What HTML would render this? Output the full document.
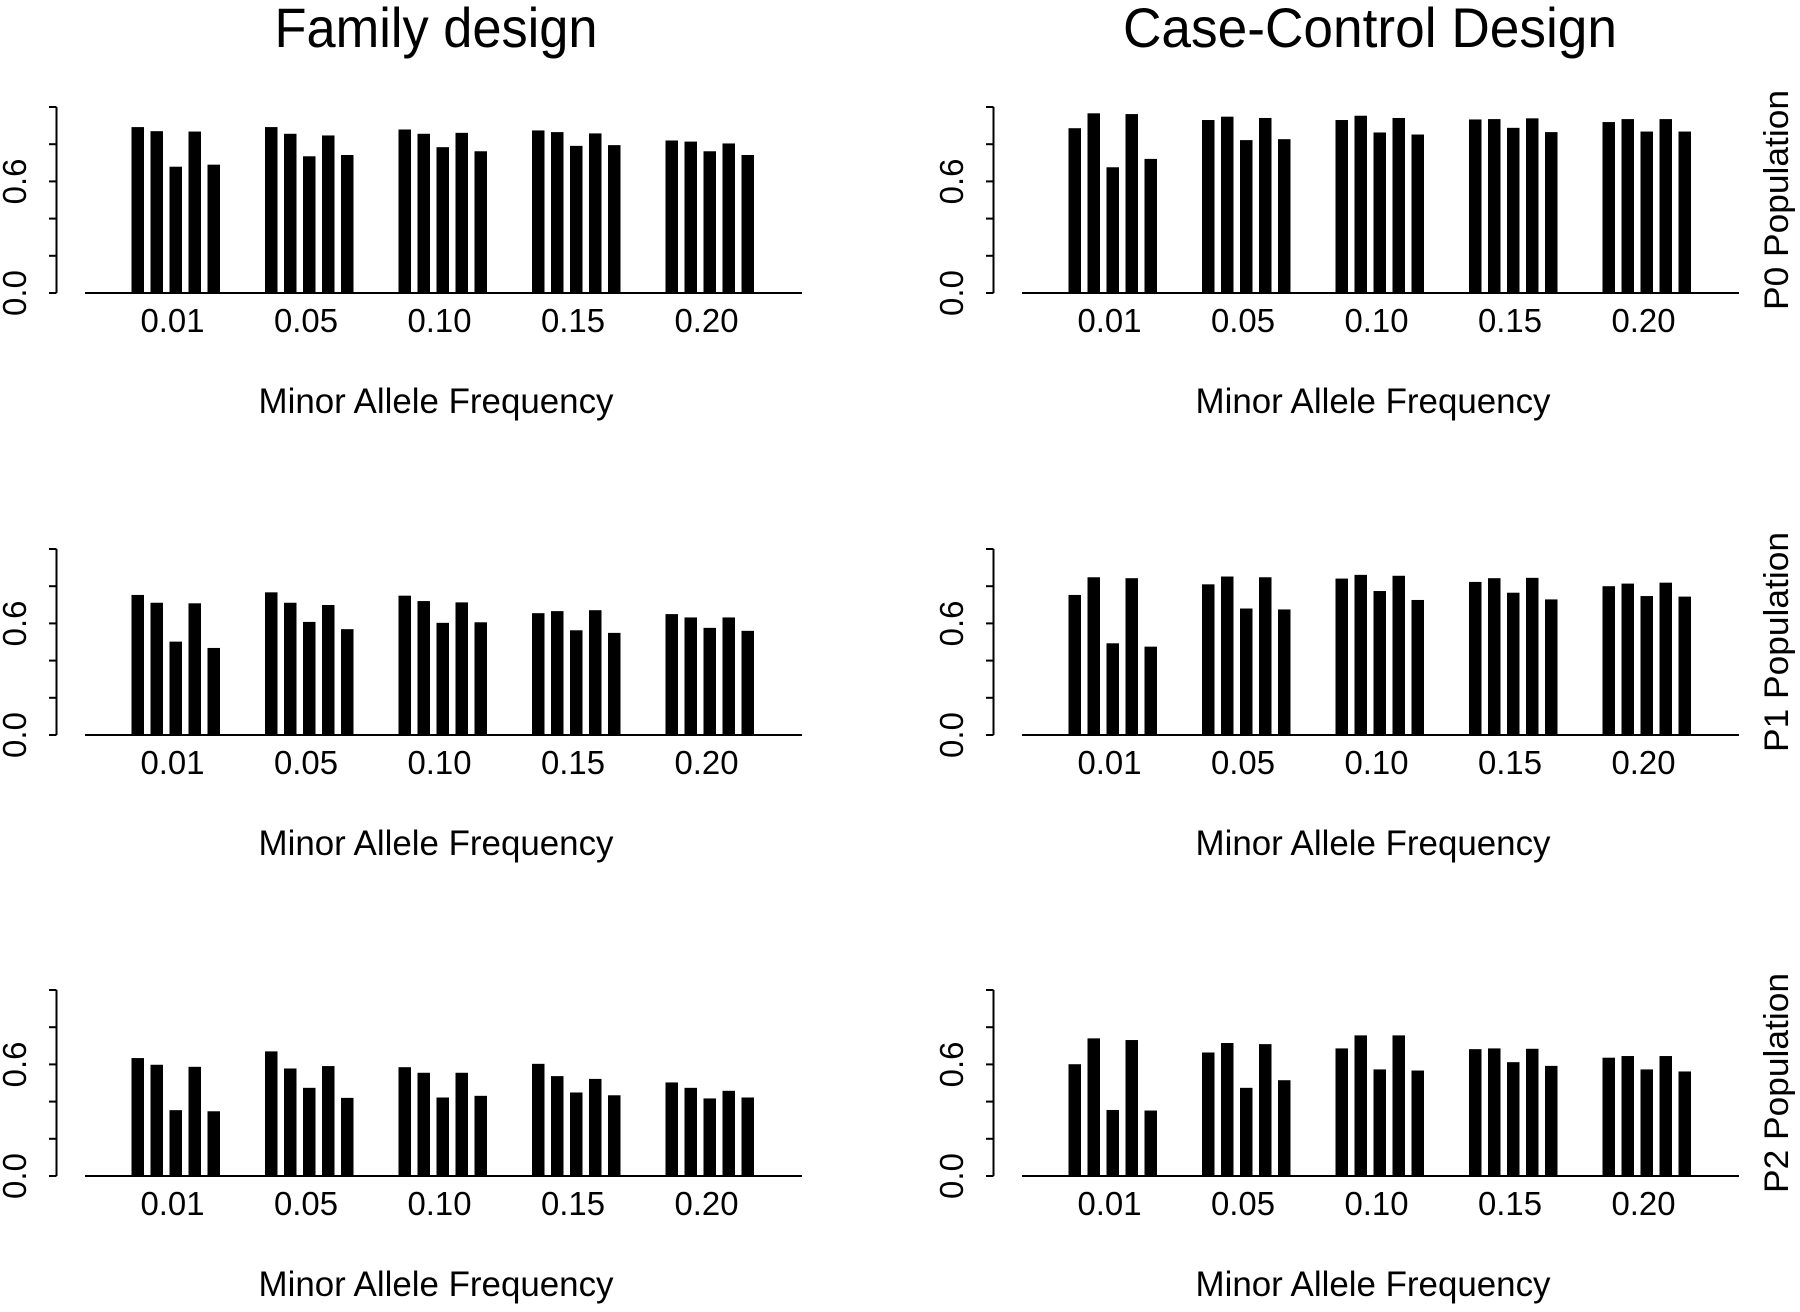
<!DOCTYPE html>
<html><head><meta charset="utf-8"><style>
html,body{margin:0;padding:0;background:#fff;}
svg{display:block;font-family:"Liberation Sans",Arial,sans-serif;}
</style></head><body>
<svg id="fig" width="1800" height="1312" viewBox="0 0 1800 1312" xmlns="http://www.w3.org/2000/svg">
<text x="436" y="47" font-size="56" text-anchor="middle" textLength="323" lengthAdjust="spacingAndGlyphs">Family design</text>
<text x="1370" y="47" font-size="56" text-anchor="middle" textLength="494" lengthAdjust="spacingAndGlyphs">Case-Control Design</text>
</svg>
<script>
const categories = ["0.01","0.05","0.10","0.15","0.20"];
const yTicks = [0,0.2,0.4,0.6,0.8,1.0];
const yTickLabels = {"0":"0.0","0.6":"0.6"};
const rowLabels = ["P0 Population","P1 Population","P2 Population"];
const famP0 = [[0.892,0.870,0.679,0.868,0.690],[0.892,0.856,0.735,0.847,0.742],[0.879,0.856,0.784,0.861,0.762],[0.874,0.865,0.791,0.858,0.795],[0.820,0.814,0.762,0.804,0.742]];
const ccP0 = [[0.886,0.966,0.676,0.962,0.721],[0.930,0.948,0.822,0.941,0.827],[0.930,0.953,0.863,0.941,0.852],[0.933,0.935,0.888,0.939,0.865],[0.919,0.935,0.868,0.935,0.868]];
const famP1 = [[0.753,0.711,0.502,0.708,0.468],[0.767,0.711,0.608,0.699,0.569],[0.749,0.720,0.603,0.713,0.606],[0.655,0.666,0.563,0.671,0.549],[0.650,0.632,0.576,0.632,0.560]];
const ccP1 = [[0.753,0.848,0.493,0.843,0.475],[0.810,0.852,0.680,0.848,0.675],[0.841,0.861,0.774,0.856,0.726],[0.823,0.843,0.765,0.845,0.729],[0.800,0.814,0.747,0.819,0.744]];
const famP2 = [[0.634,0.598,0.354,0.587,0.348],[0.670,0.578,0.474,0.591,0.420],[0.585,0.555,0.422,0.555,0.431],[0.603,0.537,0.449,0.522,0.434],[0.503,0.474,0.417,0.458,0.422]];
const ccP2 = [[0.601,0.740,0.355,0.731,0.352],[0.664,0.715,0.474,0.709,0.515],[0.686,0.756,0.573,0.756,0.567],[0.682,0.686,0.612,0.684,0.592],[0.636,0.645,0.573,0.645,0.562]];

const NS="http://www.w3.org/2000/svg";
const svg=document.getElementById('fig');
function mk(tag,attrs){const e=document.createElementNS(NS,tag);for(const k in attrs)e.setAttribute(k,attrs[k]);return e;}
const baselines=[293,735,1176];
const FULL=186;
const panels=[[famP0,ccP0],[famP1,ccP1],[famP2,ccP2]];
for(let r=0;r<3;r++){
  for(let c=0;c<2;c++){
    const data=panels[r][c];
    const ox=c*937;
    const B=baselines[r];
    const yS=v=>B-v*FULL;
    const xBar=(g,i)=>ox+131.5+g*133.5+i*19;
    const g0=mk('g',{});
    
    
    svg.appendChild(g0);
    const ax=mk('line',{x1:ox+56.5,x2:ox+56.5,y1:yS(1),y2:yS(0),stroke:'#000','stroke-width':2});
    
    
    g0.appendChild(ax);
    yTicks.forEach(t=>{
      const tk=mk('line',{x1:ox+49,x2:ox+56.5,y1:yS(t),y2:yS(t),stroke:'#000','stroke-width':2});
      
      
      g0.appendChild(tk);
      const key=String(t);
      if(yTickLabels[key]){
        const tl=mk('text',{x:0,y:0,'font-size':33,'text-anchor':'middle',transform:'translate('+(ox+26)+','+yS(t)+') rotate(-90)'});
        tl.textContent=yTickLabels[key];
        
        
        g0.appendChild(tl);
      }
    });
    const bl=mk('line',{x1:ox+85,x2:ox+802,y1:B,y2:B,stroke:'#000','stroke-width':2});
    
    
    g0.appendChild(bl);
    data.forEach((grp,g)=>{
      grp.forEach((v,i)=>{
        const rc=mk('rect',{x:xBar(g,i),y:yS(v),width:12.5,height:B-yS(v),fill:'#000'});
        
        
        g0.appendChild(rc);
      });
      const cx=xBar(g,2)+6-3;
      const lb=mk('text',{x:cx,y:B+39,'font-size':33,'text-anchor':'middle',textLength:64,lengthAdjust:'spacingAndGlyphs'});
      lb.textContent=categories[g];
      
      
      g0.appendChild(lb);
    });
    const xt=mk('text',{x:ox+436,y:B+120,'font-size':35,'text-anchor':'middle',textLength:355,lengthAdjust:'spacingAndGlyphs'});
    xt.textContent='Minor Allele Frequency';
    
    
    g0.appendChild(xt);
    if(c===1){
      const rl=mk('text',{x:0,y:0,'font-size':34,'text-anchor':'middle',textLength:220,lengthAdjust:'spacingAndGlyphs',transform:'translate(1788,'+(B-93)+') rotate(-90)'});
      rl.textContent=rowLabels[r];
      
      
      g0.appendChild(rl);
    }
  }
}
</script>
</body></html>
